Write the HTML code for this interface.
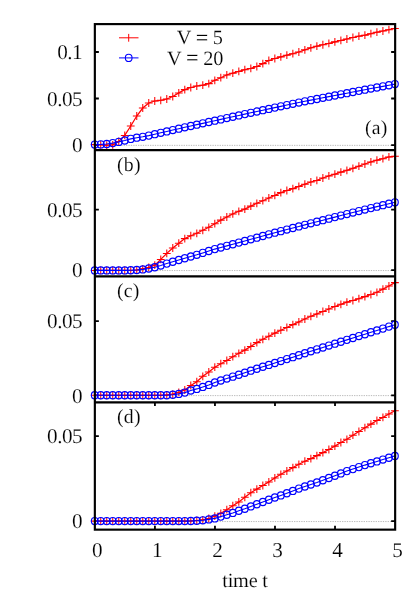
<!DOCTYPE html>
<html><head><meta charset="utf-8"><title>plot</title>
<style>html,body{margin:0;padding:0;background:#fff;}svg{display:block;will-change:transform;}text{font-family:"Liberation Serif",serif;font-size:20.3px;letter-spacing:-0.2px;fill:#000;text-rendering:geometricPrecision;stroke:#fff;stroke-width:0.14px;}.t{font-size:21.2px;letter-spacing:-0.55px;}.p{font-size:19.8px;letter-spacing:0.25px;}</style>
</head><body>
<svg width="415" height="610" viewBox="0 0 415 610">
<rect x="0" y="0" width="415" height="610" fill="#ffffff"/>
<line x1="94.85" y1="145.35" x2="395.15" y2="145.35" stroke="#a8a8a8" stroke-width="0.8" stroke-dasharray="1.3 1.1"/>
<line x1="94.85" y1="270.55" x2="395.15" y2="270.55" stroke="#a8a8a8" stroke-width="0.8" stroke-dasharray="1.3 1.1"/>
<line x1="94.85" y1="395.60" x2="395.15" y2="395.60" stroke="#a8a8a8" stroke-width="0.8" stroke-dasharray="1.3 1.1"/>
<line x1="94.85" y1="521.55" x2="395.15" y2="521.55" stroke="#a8a8a8" stroke-width="0.8" stroke-dasharray="1.3 1.1"/>
<path d="M94.85 52.0h4.0M395.15 52.0h-4.0M94.85 98.5h4.0M395.15 98.5h-4.0M94.85 145.05h4.0M395.15 145.05h-4.0M94.85 209.7h4.0M395.15 209.7h-4.0M94.85 270.1h4.0M395.15 270.1h-4.0M94.85 321.2h4.0M395.15 321.2h-4.0M94.85 395.3h4.0M395.15 395.3h-4.0M94.85 436.2h4.0M395.15 436.2h-4.0M94.85 521.1h4.0M395.15 521.1h-4.0M154.93 529.65v-3.8M154.93 402.3v3.8M214.96 529.65v-3.8M214.96 402.3v3.8M274.99 529.65v-3.8M274.99 402.3v3.8M335.02 529.65v-3.8M335.02 402.3v3.8" fill="none" stroke="#000" stroke-width="1.8"/>
<polyline points="94.72,144.60 100.72,144.80 106.73,145.20 112.73,144.80 118.74,141.50 124.74,135.40 130.74,126.00 136.75,116.00 142.75,108.00 148.76,103.00 154.76,101.00 160.76,100.30 166.77,99.00 172.77,96.50 178.78,92.90 184.78,89.60 190.78,87.50 196.79,86.00 202.79,85.20 208.80,83.60 214.80,80.30 220.80,77.70 226.81,74.90 232.81,73.20 238.82,71.40 244.82,69.70 250.82,68.40 256.83,66.50 262.83,63.60 268.84,60.50 274.84,58.50 280.84,56.85 286.85,55.20 292.85,53.70 298.86,52.00 304.86,49.80 310.86,47.80 316.87,46.15 322.87,44.75 328.88,43.40 334.88,41.85 340.88,40.40 346.89,39.00 352.89,37.50 358.90,36.20 364.90,35.20 370.90,33.70 376.91,32.20 382.91,31.00 388.92,29.70 394.92,28.40" fill="none" stroke="#ff0000" stroke-width="1.25"/>
<path d="M90.82 144.60h7.8M94.72 140.70v7.8M96.82 144.80h7.8M100.72 140.90v7.8M102.83 145.20h7.8M106.73 141.30v7.8M108.83 144.80h7.8M112.73 140.90v7.8M114.84 141.50h7.8M118.74 137.60v7.8M120.84 135.40h7.8M124.74 131.50v7.8M126.84 126.00h7.8M130.74 122.10v7.8M132.85 116.00h7.8M136.75 112.10v7.8M138.85 108.00h7.8M142.75 104.10v7.8M144.86 103.00h7.8M148.76 99.10v7.8M150.86 101.00h7.8M154.76 97.10v7.8M156.86 100.30h7.8M160.76 96.40v7.8M162.87 99.00h7.8M166.77 95.10v7.8M168.87 96.50h7.8M172.77 92.60v7.8M174.88 92.90h7.8M178.78 89.00v7.8M180.88 89.60h7.8M184.78 85.70v7.8M186.88 87.50h7.8M190.78 83.60v7.8M192.89 86.00h7.8M196.79 82.10v7.8M198.89 85.20h7.8M202.79 81.30v7.8M204.90 83.60h7.8M208.80 79.70v7.8M210.90 80.30h7.8M214.80 76.40v7.8M216.90 77.70h7.8M220.80 73.80v7.8M222.91 74.90h7.8M226.81 71.00v7.8M228.91 73.20h7.8M232.81 69.30v7.8M234.92 71.40h7.8M238.82 67.50v7.8M240.92 69.70h7.8M244.82 65.80v7.8M246.92 68.40h7.8M250.82 64.50v7.8M252.93 66.50h7.8M256.83 62.60v7.8M258.93 63.60h7.8M262.83 59.70v7.8M264.94 60.50h7.8M268.84 56.60v7.8M270.94 58.50h7.8M274.84 54.60v7.8M276.94 56.85h7.8M280.84 52.95v7.8M282.95 55.20h7.8M286.85 51.30v7.8M288.95 53.70h7.8M292.85 49.80v7.8M294.96 52.00h7.8M298.86 48.10v7.8M300.96 49.80h7.8M304.86 45.90v7.8M306.96 47.80h7.8M310.86 43.90v7.8M312.97 46.15h7.8M316.87 42.25v7.8M318.97 44.75h7.8M322.87 40.85v7.8M324.98 43.40h7.8M328.88 39.50v7.8M330.98 41.85h7.8M334.88 37.95v7.8M336.98 40.40h7.8M340.88 36.50v7.8M342.99 39.00h7.8M346.89 35.10v7.8M348.99 37.50h7.8M352.89 33.60v7.8M355.00 36.20h7.8M358.90 32.30v7.8M361.00 35.20h7.8M364.90 31.30v7.8M367.00 33.70h7.8M370.90 29.80v7.8M373.01 32.20h7.8M376.91 28.30v7.8M379.01 31.00h7.8M382.91 27.10v7.8M385.02 29.70h7.8M388.92 25.80v7.8M391.02 28.40h7.8M394.92 24.50v7.8" fill="none" stroke="#ff0000" stroke-width="1.05"/>
<polyline points="94.72,144.60 100.72,144.40 106.73,144.00 112.73,143.10 118.74,141.90 124.74,140.50 130.74,138.90 136.75,137.70 142.75,136.80 148.76,135.60 154.76,134.20 160.76,132.82 166.77,131.44 172.77,130.06 178.78,128.68 184.78,127.30 190.78,125.98 196.79,124.66 202.79,123.34 208.80,122.02 214.80,120.70 220.80,119.38 226.81,118.06 232.81,116.74 238.82,115.42 244.82,114.10 250.82,112.80 256.83,111.50 262.83,110.20 268.84,108.90 274.84,107.60 280.84,106.34 286.85,105.08 292.85,103.82 298.86,102.56 304.86,101.30 310.86,100.14 316.87,98.98 322.87,97.82 328.88,96.66 334.88,95.50 340.88,94.34 346.89,93.18 352.89,92.02 358.90,90.86 364.90,89.70 370.90,88.58 376.91,87.46 382.91,86.34 388.92,85.22 394.92,84.10" fill="none" stroke="#0000ff" stroke-width="1.1"/>
<g fill="none" stroke="#0000ff" stroke-width="1.15">
<ellipse cx="94.72" cy="144.60" rx="3.35" ry="3.6"/>
<ellipse cx="100.72" cy="144.40" rx="3.35" ry="3.6"/>
<ellipse cx="106.73" cy="144.00" rx="3.35" ry="3.6"/>
<ellipse cx="112.73" cy="143.10" rx="3.35" ry="3.6"/>
<ellipse cx="118.74" cy="141.90" rx="3.35" ry="3.6"/>
<ellipse cx="124.74" cy="140.50" rx="3.35" ry="3.6"/>
<ellipse cx="130.74" cy="138.90" rx="3.35" ry="3.6"/>
<ellipse cx="136.75" cy="137.70" rx="3.35" ry="3.6"/>
<ellipse cx="142.75" cy="136.80" rx="3.35" ry="3.6"/>
<ellipse cx="148.76" cy="135.60" rx="3.35" ry="3.6"/>
<ellipse cx="154.76" cy="134.20" rx="3.35" ry="3.6"/>
<ellipse cx="160.76" cy="132.82" rx="3.35" ry="3.6"/>
<ellipse cx="166.77" cy="131.44" rx="3.35" ry="3.6"/>
<ellipse cx="172.77" cy="130.06" rx="3.35" ry="3.6"/>
<ellipse cx="178.78" cy="128.68" rx="3.35" ry="3.6"/>
<ellipse cx="184.78" cy="127.30" rx="3.35" ry="3.6"/>
<ellipse cx="190.78" cy="125.98" rx="3.35" ry="3.6"/>
<ellipse cx="196.79" cy="124.66" rx="3.35" ry="3.6"/>
<ellipse cx="202.79" cy="123.34" rx="3.35" ry="3.6"/>
<ellipse cx="208.80" cy="122.02" rx="3.35" ry="3.6"/>
<ellipse cx="214.80" cy="120.70" rx="3.35" ry="3.6"/>
<ellipse cx="220.80" cy="119.38" rx="3.35" ry="3.6"/>
<ellipse cx="226.81" cy="118.06" rx="3.35" ry="3.6"/>
<ellipse cx="232.81" cy="116.74" rx="3.35" ry="3.6"/>
<ellipse cx="238.82" cy="115.42" rx="3.35" ry="3.6"/>
<ellipse cx="244.82" cy="114.10" rx="3.35" ry="3.6"/>
<ellipse cx="250.82" cy="112.80" rx="3.35" ry="3.6"/>
<ellipse cx="256.83" cy="111.50" rx="3.35" ry="3.6"/>
<ellipse cx="262.83" cy="110.20" rx="3.35" ry="3.6"/>
<ellipse cx="268.84" cy="108.90" rx="3.35" ry="3.6"/>
<ellipse cx="274.84" cy="107.60" rx="3.35" ry="3.6"/>
<ellipse cx="280.84" cy="106.34" rx="3.35" ry="3.6"/>
<ellipse cx="286.85" cy="105.08" rx="3.35" ry="3.6"/>
<ellipse cx="292.85" cy="103.82" rx="3.35" ry="3.6"/>
<ellipse cx="298.86" cy="102.56" rx="3.35" ry="3.6"/>
<ellipse cx="304.86" cy="101.30" rx="3.35" ry="3.6"/>
<ellipse cx="310.86" cy="100.14" rx="3.35" ry="3.6"/>
<ellipse cx="316.87" cy="98.98" rx="3.35" ry="3.6"/>
<ellipse cx="322.87" cy="97.82" rx="3.35" ry="3.6"/>
<ellipse cx="328.88" cy="96.66" rx="3.35" ry="3.6"/>
<ellipse cx="334.88" cy="95.50" rx="3.35" ry="3.6"/>
<ellipse cx="340.88" cy="94.34" rx="3.35" ry="3.6"/>
<ellipse cx="346.89" cy="93.18" rx="3.35" ry="3.6"/>
<ellipse cx="352.89" cy="92.02" rx="3.35" ry="3.6"/>
<ellipse cx="358.90" cy="90.86" rx="3.35" ry="3.6"/>
<ellipse cx="364.90" cy="89.70" rx="3.35" ry="3.6"/>
<ellipse cx="370.90" cy="88.58" rx="3.35" ry="3.6"/>
<ellipse cx="376.91" cy="87.46" rx="3.35" ry="3.6"/>
<ellipse cx="382.91" cy="86.34" rx="3.35" ry="3.6"/>
<ellipse cx="388.92" cy="85.22" rx="3.35" ry="3.6"/>
<ellipse cx="394.92" cy="84.10" rx="3.35" ry="3.6"/>
</g>
<polyline points="94.72,270.40 100.72,270.40 106.73,270.40 112.73,270.40 118.74,270.40 124.74,270.40 130.74,270.40 136.75,270.00 142.75,268.80 148.76,267.40 154.76,265.10 160.76,259.40 166.77,253.40 172.77,248.00 178.78,243.20 184.78,238.60 190.78,235.70 196.79,233.30 202.79,230.30 208.80,227.30 214.80,223.70 220.80,220.10 226.81,217.00 232.81,213.90 238.82,211.30 244.82,209.10 250.82,206.10 256.83,203.30 262.83,200.70 268.84,198.00 274.84,195.40 280.84,192.60 286.85,190.50 292.85,188.60 298.86,186.40 304.86,184.20 310.86,182.00 316.87,180.40 322.87,178.00 328.88,175.95 334.88,174.20 340.88,172.10 346.89,170.30 352.89,168.30 358.90,166.20 364.90,164.00 370.90,161.90 376.91,160.20 382.91,158.70 388.92,156.90 394.92,156.30" fill="none" stroke="#ff0000" stroke-width="1.25"/>
<path d="M90.82 270.40h7.8M94.72 266.50v7.8M96.82 270.40h7.8M100.72 266.50v7.8M102.83 270.40h7.8M106.73 266.50v7.8M108.83 270.40h7.8M112.73 266.50v7.8M114.84 270.40h7.8M118.74 266.50v7.8M120.84 270.40h7.8M124.74 266.50v7.8M126.84 270.40h7.8M130.74 266.50v7.8M132.85 270.00h7.8M136.75 266.10v7.8M138.85 268.80h7.8M142.75 264.90v7.8M144.86 267.40h7.8M148.76 263.50v7.8M150.86 265.10h7.8M154.76 261.20v7.8M156.86 259.40h7.8M160.76 255.50v7.8M162.87 253.40h7.8M166.77 249.50v7.8M168.87 248.00h7.8M172.77 244.10v7.8M174.88 243.20h7.8M178.78 239.30v7.8M180.88 238.60h7.8M184.78 234.70v7.8M186.88 235.70h7.8M190.78 231.80v7.8M192.89 233.30h7.8M196.79 229.40v7.8M198.89 230.30h7.8M202.79 226.40v7.8M204.90 227.30h7.8M208.80 223.40v7.8M210.90 223.70h7.8M214.80 219.80v7.8M216.90 220.10h7.8M220.80 216.20v7.8M222.91 217.00h7.8M226.81 213.10v7.8M228.91 213.90h7.8M232.81 210.00v7.8M234.92 211.30h7.8M238.82 207.40v7.8M240.92 209.10h7.8M244.82 205.20v7.8M246.92 206.10h7.8M250.82 202.20v7.8M252.93 203.30h7.8M256.83 199.40v7.8M258.93 200.70h7.8M262.83 196.80v7.8M264.94 198.00h7.8M268.84 194.10v7.8M270.94 195.40h7.8M274.84 191.50v7.8M276.94 192.60h7.8M280.84 188.70v7.8M282.95 190.50h7.8M286.85 186.60v7.8M288.95 188.60h7.8M292.85 184.70v7.8M294.96 186.40h7.8M298.86 182.50v7.8M300.96 184.20h7.8M304.86 180.30v7.8M306.96 182.00h7.8M310.86 178.10v7.8M312.97 180.40h7.8M316.87 176.50v7.8M318.97 178.00h7.8M322.87 174.10v7.8M324.98 175.95h7.8M328.88 172.05v7.8M330.98 174.20h7.8M334.88 170.30v7.8M336.98 172.10h7.8M340.88 168.20v7.8M342.99 170.30h7.8M346.89 166.40v7.8M348.99 168.30h7.8M352.89 164.40v7.8M355.00 166.20h7.8M358.90 162.30v7.8M361.00 164.00h7.8M364.90 160.10v7.8M367.00 161.90h7.8M370.90 158.00v7.8M373.01 160.20h7.8M376.91 156.30v7.8M379.01 158.70h7.8M382.91 154.80v7.8M385.02 156.90h7.8M388.92 153.00v7.8M391.02 156.30h7.8M394.92 152.40v7.8" fill="none" stroke="#ff0000" stroke-width="1.05"/>
<polyline points="94.72,270.40 100.72,270.40 106.73,270.40 112.73,270.40 118.74,270.40 124.74,270.40 130.74,270.20 136.75,270.00 142.75,269.40 148.76,268.50 154.76,267.20 160.76,265.50 166.77,263.60 172.77,261.80 178.78,260.00 184.78,258.30 190.78,256.50 196.79,254.80 202.79,252.90 208.80,251.00 214.80,249.10 220.80,247.48 226.81,245.86 232.81,244.24 238.82,242.62 244.82,241.00 250.82,239.34 256.83,237.68 262.83,236.02 268.84,234.36 274.84,232.70 280.84,231.13 286.85,229.56 292.85,227.99 298.86,226.42 304.86,224.85 310.86,223.30 316.87,221.75 322.87,220.20 328.88,218.65 334.88,217.10 340.88,215.59 346.89,214.08 352.89,212.57 358.90,211.06 364.90,209.55 370.90,208.10 376.91,206.65 382.91,205.20 388.92,203.75 394.92,202.30" fill="none" stroke="#0000ff" stroke-width="1.1"/>
<g fill="none" stroke="#0000ff" stroke-width="1.15">
<ellipse cx="94.72" cy="270.40" rx="3.35" ry="3.6"/>
<ellipse cx="100.72" cy="270.40" rx="3.35" ry="3.6"/>
<ellipse cx="106.73" cy="270.40" rx="3.35" ry="3.6"/>
<ellipse cx="112.73" cy="270.40" rx="3.35" ry="3.6"/>
<ellipse cx="118.74" cy="270.40" rx="3.35" ry="3.6"/>
<ellipse cx="124.74" cy="270.40" rx="3.35" ry="3.6"/>
<ellipse cx="130.74" cy="270.20" rx="3.35" ry="3.6"/>
<ellipse cx="136.75" cy="270.00" rx="3.35" ry="3.6"/>
<ellipse cx="142.75" cy="269.40" rx="3.35" ry="3.6"/>
<ellipse cx="148.76" cy="268.50" rx="3.35" ry="3.6"/>
<ellipse cx="154.76" cy="267.20" rx="3.35" ry="3.6"/>
<ellipse cx="160.76" cy="265.50" rx="3.35" ry="3.6"/>
<ellipse cx="166.77" cy="263.60" rx="3.35" ry="3.6"/>
<ellipse cx="172.77" cy="261.80" rx="3.35" ry="3.6"/>
<ellipse cx="178.78" cy="260.00" rx="3.35" ry="3.6"/>
<ellipse cx="184.78" cy="258.30" rx="3.35" ry="3.6"/>
<ellipse cx="190.78" cy="256.50" rx="3.35" ry="3.6"/>
<ellipse cx="196.79" cy="254.80" rx="3.35" ry="3.6"/>
<ellipse cx="202.79" cy="252.90" rx="3.35" ry="3.6"/>
<ellipse cx="208.80" cy="251.00" rx="3.35" ry="3.6"/>
<ellipse cx="214.80" cy="249.10" rx="3.35" ry="3.6"/>
<ellipse cx="220.80" cy="247.48" rx="3.35" ry="3.6"/>
<ellipse cx="226.81" cy="245.86" rx="3.35" ry="3.6"/>
<ellipse cx="232.81" cy="244.24" rx="3.35" ry="3.6"/>
<ellipse cx="238.82" cy="242.62" rx="3.35" ry="3.6"/>
<ellipse cx="244.82" cy="241.00" rx="3.35" ry="3.6"/>
<ellipse cx="250.82" cy="239.34" rx="3.35" ry="3.6"/>
<ellipse cx="256.83" cy="237.68" rx="3.35" ry="3.6"/>
<ellipse cx="262.83" cy="236.02" rx="3.35" ry="3.6"/>
<ellipse cx="268.84" cy="234.36" rx="3.35" ry="3.6"/>
<ellipse cx="274.84" cy="232.70" rx="3.35" ry="3.6"/>
<ellipse cx="280.84" cy="231.13" rx="3.35" ry="3.6"/>
<ellipse cx="286.85" cy="229.56" rx="3.35" ry="3.6"/>
<ellipse cx="292.85" cy="227.99" rx="3.35" ry="3.6"/>
<ellipse cx="298.86" cy="226.42" rx="3.35" ry="3.6"/>
<ellipse cx="304.86" cy="224.85" rx="3.35" ry="3.6"/>
<ellipse cx="310.86" cy="223.30" rx="3.35" ry="3.6"/>
<ellipse cx="316.87" cy="221.75" rx="3.35" ry="3.6"/>
<ellipse cx="322.87" cy="220.20" rx="3.35" ry="3.6"/>
<ellipse cx="328.88" cy="218.65" rx="3.35" ry="3.6"/>
<ellipse cx="334.88" cy="217.10" rx="3.35" ry="3.6"/>
<ellipse cx="340.88" cy="215.59" rx="3.35" ry="3.6"/>
<ellipse cx="346.89" cy="214.08" rx="3.35" ry="3.6"/>
<ellipse cx="352.89" cy="212.57" rx="3.35" ry="3.6"/>
<ellipse cx="358.90" cy="211.06" rx="3.35" ry="3.6"/>
<ellipse cx="364.90" cy="209.55" rx="3.35" ry="3.6"/>
<ellipse cx="370.90" cy="208.10" rx="3.35" ry="3.6"/>
<ellipse cx="376.91" cy="206.65" rx="3.35" ry="3.6"/>
<ellipse cx="382.91" cy="205.20" rx="3.35" ry="3.6"/>
<ellipse cx="388.92" cy="203.75" rx="3.35" ry="3.6"/>
<ellipse cx="394.92" cy="202.30" rx="3.35" ry="3.6"/>
</g>
<polyline points="94.72,395.30 100.72,395.30 106.73,395.30 112.73,395.30 118.74,395.30 124.74,395.30 130.74,395.30 136.75,395.30 142.75,395.30 148.76,395.30 154.76,395.30 160.76,395.30 166.77,394.90 172.77,394.20 178.78,392.40 184.78,390.00 190.78,385.50 196.79,381.70 202.79,376.30 208.80,372.00 214.80,367.20 220.80,363.70 226.81,360.50 232.81,356.70 238.82,353.30 244.82,350.10 250.82,346.40 256.83,342.60 262.83,339.30 268.84,336.30 274.84,333.10 280.84,330.20 286.85,327.50 292.85,324.60 298.86,321.90 304.86,319.00 310.86,316.30 316.87,313.90 322.87,311.50 328.88,309.00 334.88,306.50 340.88,304.30 346.89,302.10 352.89,300.50 358.90,298.70 364.90,296.60 370.90,294.50 376.91,292.30 382.91,289.10 388.92,286.00 394.92,282.60" fill="none" stroke="#ff0000" stroke-width="1.25"/>
<path d="M90.82 395.30h7.8M94.72 391.40v7.8M96.82 395.30h7.8M100.72 391.40v7.8M102.83 395.30h7.8M106.73 391.40v7.8M108.83 395.30h7.8M112.73 391.40v7.8M114.84 395.30h7.8M118.74 391.40v7.8M120.84 395.30h7.8M124.74 391.40v7.8M126.84 395.30h7.8M130.74 391.40v7.8M132.85 395.30h7.8M136.75 391.40v7.8M138.85 395.30h7.8M142.75 391.40v7.8M144.86 395.30h7.8M148.76 391.40v7.8M150.86 395.30h7.8M154.76 391.40v7.8M156.86 395.30h7.8M160.76 391.40v7.8M162.87 394.90h7.8M166.77 391.00v7.8M168.87 394.20h7.8M172.77 390.30v7.8M174.88 392.40h7.8M178.78 388.50v7.8M180.88 390.00h7.8M184.78 386.10v7.8M186.88 385.50h7.8M190.78 381.60v7.8M192.89 381.70h7.8M196.79 377.80v7.8M198.89 376.30h7.8M202.79 372.40v7.8M204.90 372.00h7.8M208.80 368.10v7.8M210.90 367.20h7.8M214.80 363.30v7.8M216.90 363.70h7.8M220.80 359.80v7.8M222.91 360.50h7.8M226.81 356.60v7.8M228.91 356.70h7.8M232.81 352.80v7.8M234.92 353.30h7.8M238.82 349.40v7.8M240.92 350.10h7.8M244.82 346.20v7.8M246.92 346.40h7.8M250.82 342.50v7.8M252.93 342.60h7.8M256.83 338.70v7.8M258.93 339.30h7.8M262.83 335.40v7.8M264.94 336.30h7.8M268.84 332.40v7.8M270.94 333.10h7.8M274.84 329.20v7.8M276.94 330.20h7.8M280.84 326.30v7.8M282.95 327.50h7.8M286.85 323.60v7.8M288.95 324.60h7.8M292.85 320.70v7.8M294.96 321.90h7.8M298.86 318.00v7.8M300.96 319.00h7.8M304.86 315.10v7.8M306.96 316.30h7.8M310.86 312.40v7.8M312.97 313.90h7.8M316.87 310.00v7.8M318.97 311.50h7.8M322.87 307.60v7.8M324.98 309.00h7.8M328.88 305.10v7.8M330.98 306.50h7.8M334.88 302.60v7.8M336.98 304.30h7.8M340.88 300.40v7.8M342.99 302.10h7.8M346.89 298.20v7.8M348.99 300.50h7.8M352.89 296.60v7.8M355.00 298.70h7.8M358.90 294.80v7.8M361.00 296.60h7.8M364.90 292.70v7.8M367.00 294.50h7.8M370.90 290.60v7.8M373.01 292.30h7.8M376.91 288.40v7.8M379.01 289.10h7.8M382.91 285.20v7.8M385.02 286.00h7.8M388.92 282.10v7.8M391.02 282.60h7.8M394.92 278.70v7.8" fill="none" stroke="#ff0000" stroke-width="1.05"/>
<polyline points="94.72,395.30 100.72,395.30 106.73,395.30 112.73,395.30 118.74,395.30 124.74,395.30 130.74,395.30 136.75,395.30 142.75,395.30 148.76,395.30 154.76,395.30 160.76,395.30 166.77,395.20 172.77,394.80 178.78,393.90 184.78,392.60 190.78,390.50 196.79,388.90 202.79,386.90 208.80,384.90 214.80,382.55 220.80,380.50 226.81,378.57 232.81,376.63 238.82,374.70 244.82,372.70 250.82,370.65 256.83,368.70 262.83,366.80 268.84,364.90 274.84,363.00 280.84,361.06 286.85,359.12 292.85,357.18 298.86,355.24 304.86,353.30 310.86,351.30 316.87,349.39 322.87,347.48 328.88,345.56 334.88,343.65 340.88,341.76 346.89,339.87 352.89,337.98 358.90,336.09 364.90,334.20 370.90,332.30 376.91,330.40 382.91,328.60 388.92,326.60 394.92,324.80" fill="none" stroke="#0000ff" stroke-width="1.1"/>
<g fill="none" stroke="#0000ff" stroke-width="1.15">
<ellipse cx="94.72" cy="395.30" rx="3.35" ry="3.6"/>
<ellipse cx="100.72" cy="395.30" rx="3.35" ry="3.6"/>
<ellipse cx="106.73" cy="395.30" rx="3.35" ry="3.6"/>
<ellipse cx="112.73" cy="395.30" rx="3.35" ry="3.6"/>
<ellipse cx="118.74" cy="395.30" rx="3.35" ry="3.6"/>
<ellipse cx="124.74" cy="395.30" rx="3.35" ry="3.6"/>
<ellipse cx="130.74" cy="395.30" rx="3.35" ry="3.6"/>
<ellipse cx="136.75" cy="395.30" rx="3.35" ry="3.6"/>
<ellipse cx="142.75" cy="395.30" rx="3.35" ry="3.6"/>
<ellipse cx="148.76" cy="395.30" rx="3.35" ry="3.6"/>
<ellipse cx="154.76" cy="395.30" rx="3.35" ry="3.6"/>
<ellipse cx="160.76" cy="395.30" rx="3.35" ry="3.6"/>
<ellipse cx="166.77" cy="395.20" rx="3.35" ry="3.6"/>
<ellipse cx="172.77" cy="394.80" rx="3.35" ry="3.6"/>
<ellipse cx="178.78" cy="393.90" rx="3.35" ry="3.6"/>
<ellipse cx="184.78" cy="392.60" rx="3.35" ry="3.6"/>
<ellipse cx="190.78" cy="390.50" rx="3.35" ry="3.6"/>
<ellipse cx="196.79" cy="388.90" rx="3.35" ry="3.6"/>
<ellipse cx="202.79" cy="386.90" rx="3.35" ry="3.6"/>
<ellipse cx="208.80" cy="384.90" rx="3.35" ry="3.6"/>
<ellipse cx="214.80" cy="382.55" rx="3.35" ry="3.6"/>
<ellipse cx="220.80" cy="380.50" rx="3.35" ry="3.6"/>
<ellipse cx="226.81" cy="378.57" rx="3.35" ry="3.6"/>
<ellipse cx="232.81" cy="376.63" rx="3.35" ry="3.6"/>
<ellipse cx="238.82" cy="374.70" rx="3.35" ry="3.6"/>
<ellipse cx="244.82" cy="372.70" rx="3.35" ry="3.6"/>
<ellipse cx="250.82" cy="370.65" rx="3.35" ry="3.6"/>
<ellipse cx="256.83" cy="368.70" rx="3.35" ry="3.6"/>
<ellipse cx="262.83" cy="366.80" rx="3.35" ry="3.6"/>
<ellipse cx="268.84" cy="364.90" rx="3.35" ry="3.6"/>
<ellipse cx="274.84" cy="363.00" rx="3.35" ry="3.6"/>
<ellipse cx="280.84" cy="361.06" rx="3.35" ry="3.6"/>
<ellipse cx="286.85" cy="359.12" rx="3.35" ry="3.6"/>
<ellipse cx="292.85" cy="357.18" rx="3.35" ry="3.6"/>
<ellipse cx="298.86" cy="355.24" rx="3.35" ry="3.6"/>
<ellipse cx="304.86" cy="353.30" rx="3.35" ry="3.6"/>
<ellipse cx="310.86" cy="351.30" rx="3.35" ry="3.6"/>
<ellipse cx="316.87" cy="349.39" rx="3.35" ry="3.6"/>
<ellipse cx="322.87" cy="347.48" rx="3.35" ry="3.6"/>
<ellipse cx="328.88" cy="345.56" rx="3.35" ry="3.6"/>
<ellipse cx="334.88" cy="343.65" rx="3.35" ry="3.6"/>
<ellipse cx="340.88" cy="341.76" rx="3.35" ry="3.6"/>
<ellipse cx="346.89" cy="339.87" rx="3.35" ry="3.6"/>
<ellipse cx="352.89" cy="337.98" rx="3.35" ry="3.6"/>
<ellipse cx="358.90" cy="336.09" rx="3.35" ry="3.6"/>
<ellipse cx="364.90" cy="334.20" rx="3.35" ry="3.6"/>
<ellipse cx="370.90" cy="332.30" rx="3.35" ry="3.6"/>
<ellipse cx="376.91" cy="330.40" rx="3.35" ry="3.6"/>
<ellipse cx="382.91" cy="328.60" rx="3.35" ry="3.6"/>
<ellipse cx="388.92" cy="326.60" rx="3.35" ry="3.6"/>
<ellipse cx="394.92" cy="324.80" rx="3.35" ry="3.6"/>
</g>
<polyline points="94.72,521.10 100.72,521.10 106.73,521.10 112.73,521.10 118.74,521.10 124.74,521.10 130.74,521.10 136.75,521.10 142.75,521.10 148.76,521.10 154.76,521.10 160.76,521.10 166.77,521.10 172.77,521.10 178.78,521.10 184.78,521.10 190.78,520.90 196.79,520.50 202.79,519.80 208.80,518.50 214.80,516.10 220.80,513.30 226.81,509.70 232.81,505.70 238.82,501.90 244.82,497.30 250.82,492.70 256.83,489.10 262.83,485.50 268.84,481.90 274.84,477.90 280.84,474.30 286.85,471.00 292.85,467.60 298.86,464.30 304.86,461.20 310.86,458.60 316.87,455.60 322.87,452.60 328.88,449.50 334.88,446.10 340.88,442.50 346.89,439.30 352.89,435.20 358.90,431.50 364.90,427.70 370.90,424.10 376.91,420.50 382.91,417.40 388.92,414.00 394.92,410.70" fill="none" stroke="#ff0000" stroke-width="1.25"/>
<path d="M90.82 521.10h7.8M94.72 517.20v7.8M96.82 521.10h7.8M100.72 517.20v7.8M102.83 521.10h7.8M106.73 517.20v7.8M108.83 521.10h7.8M112.73 517.20v7.8M114.84 521.10h7.8M118.74 517.20v7.8M120.84 521.10h7.8M124.74 517.20v7.8M126.84 521.10h7.8M130.74 517.20v7.8M132.85 521.10h7.8M136.75 517.20v7.8M138.85 521.10h7.8M142.75 517.20v7.8M144.86 521.10h7.8M148.76 517.20v7.8M150.86 521.10h7.8M154.76 517.20v7.8M156.86 521.10h7.8M160.76 517.20v7.8M162.87 521.10h7.8M166.77 517.20v7.8M168.87 521.10h7.8M172.77 517.20v7.8M174.88 521.10h7.8M178.78 517.20v7.8M180.88 521.10h7.8M184.78 517.20v7.8M186.88 520.90h7.8M190.78 517.00v7.8M192.89 520.50h7.8M196.79 516.60v7.8M198.89 519.80h7.8M202.79 515.90v7.8M204.90 518.50h7.8M208.80 514.60v7.8M210.90 516.10h7.8M214.80 512.20v7.8M216.90 513.30h7.8M220.80 509.40v7.8M222.91 509.70h7.8M226.81 505.80v7.8M228.91 505.70h7.8M232.81 501.80v7.8M234.92 501.90h7.8M238.82 498.00v7.8M240.92 497.30h7.8M244.82 493.40v7.8M246.92 492.70h7.8M250.82 488.80v7.8M252.93 489.10h7.8M256.83 485.20v7.8M258.93 485.50h7.8M262.83 481.60v7.8M264.94 481.90h7.8M268.84 478.00v7.8M270.94 477.90h7.8M274.84 474.00v7.8M276.94 474.30h7.8M280.84 470.40v7.8M282.95 471.00h7.8M286.85 467.10v7.8M288.95 467.60h7.8M292.85 463.70v7.8M294.96 464.30h7.8M298.86 460.40v7.8M300.96 461.20h7.8M304.86 457.30v7.8M306.96 458.60h7.8M310.86 454.70v7.8M312.97 455.60h7.8M316.87 451.70v7.8M318.97 452.60h7.8M322.87 448.70v7.8M324.98 449.50h7.8M328.88 445.60v7.8M330.98 446.10h7.8M334.88 442.20v7.8M336.98 442.50h7.8M340.88 438.60v7.8M342.99 439.30h7.8M346.89 435.40v7.8M348.99 435.20h7.8M352.89 431.30v7.8M355.00 431.50h7.8M358.90 427.60v7.8M361.00 427.70h7.8M364.90 423.80v7.8M367.00 424.10h7.8M370.90 420.20v7.8M373.01 420.50h7.8M376.91 416.60v7.8M379.01 417.40h7.8M382.91 413.50v7.8M385.02 414.00h7.8M388.92 410.10v7.8M391.02 410.70h7.8M394.92 406.80v7.8" fill="none" stroke="#ff0000" stroke-width="1.05"/>
<polyline points="94.72,521.10 100.72,521.10 106.73,521.10 112.73,521.10 118.74,521.10 124.74,521.10 130.74,521.10 136.75,521.10 142.75,521.10 148.76,521.10 154.76,521.10 160.76,521.10 166.77,521.10 172.77,521.10 178.78,521.10 184.78,521.10 190.78,521.00 196.79,520.70 202.79,520.30 208.80,519.40 214.80,518.40 220.80,516.60 226.81,514.80 232.81,512.90 238.82,510.70 244.82,508.70 250.82,506.40 256.83,504.20 262.83,501.95 268.84,499.70 274.84,497.55 280.84,495.40 286.85,493.20 292.85,490.90 298.86,488.60 304.86,486.55 310.86,484.50 316.87,482.50 322.87,480.30 328.88,478.00 334.88,475.70 340.88,473.40 346.89,471.10 352.89,469.10 358.90,467.10 364.90,465.10 370.90,463.26 376.91,461.42 382.91,459.58 388.92,457.74 394.92,455.90" fill="none" stroke="#0000ff" stroke-width="1.1"/>
<g fill="none" stroke="#0000ff" stroke-width="1.15">
<ellipse cx="94.72" cy="521.10" rx="3.35" ry="3.6"/>
<ellipse cx="100.72" cy="521.10" rx="3.35" ry="3.6"/>
<ellipse cx="106.73" cy="521.10" rx="3.35" ry="3.6"/>
<ellipse cx="112.73" cy="521.10" rx="3.35" ry="3.6"/>
<ellipse cx="118.74" cy="521.10" rx="3.35" ry="3.6"/>
<ellipse cx="124.74" cy="521.10" rx="3.35" ry="3.6"/>
<ellipse cx="130.74" cy="521.10" rx="3.35" ry="3.6"/>
<ellipse cx="136.75" cy="521.10" rx="3.35" ry="3.6"/>
<ellipse cx="142.75" cy="521.10" rx="3.35" ry="3.6"/>
<ellipse cx="148.76" cy="521.10" rx="3.35" ry="3.6"/>
<ellipse cx="154.76" cy="521.10" rx="3.35" ry="3.6"/>
<ellipse cx="160.76" cy="521.10" rx="3.35" ry="3.6"/>
<ellipse cx="166.77" cy="521.10" rx="3.35" ry="3.6"/>
<ellipse cx="172.77" cy="521.10" rx="3.35" ry="3.6"/>
<ellipse cx="178.78" cy="521.10" rx="3.35" ry="3.6"/>
<ellipse cx="184.78" cy="521.10" rx="3.35" ry="3.6"/>
<ellipse cx="190.78" cy="521.00" rx="3.35" ry="3.6"/>
<ellipse cx="196.79" cy="520.70" rx="3.35" ry="3.6"/>
<ellipse cx="202.79" cy="520.30" rx="3.35" ry="3.6"/>
<ellipse cx="208.80" cy="519.40" rx="3.35" ry="3.6"/>
<ellipse cx="214.80" cy="518.40" rx="3.35" ry="3.6"/>
<ellipse cx="220.80" cy="516.60" rx="3.35" ry="3.6"/>
<ellipse cx="226.81" cy="514.80" rx="3.35" ry="3.6"/>
<ellipse cx="232.81" cy="512.90" rx="3.35" ry="3.6"/>
<ellipse cx="238.82" cy="510.70" rx="3.35" ry="3.6"/>
<ellipse cx="244.82" cy="508.70" rx="3.35" ry="3.6"/>
<ellipse cx="250.82" cy="506.40" rx="3.35" ry="3.6"/>
<ellipse cx="256.83" cy="504.20" rx="3.35" ry="3.6"/>
<ellipse cx="262.83" cy="501.95" rx="3.35" ry="3.6"/>
<ellipse cx="268.84" cy="499.70" rx="3.35" ry="3.6"/>
<ellipse cx="274.84" cy="497.55" rx="3.35" ry="3.6"/>
<ellipse cx="280.84" cy="495.40" rx="3.35" ry="3.6"/>
<ellipse cx="286.85" cy="493.20" rx="3.35" ry="3.6"/>
<ellipse cx="292.85" cy="490.90" rx="3.35" ry="3.6"/>
<ellipse cx="298.86" cy="488.60" rx="3.35" ry="3.6"/>
<ellipse cx="304.86" cy="486.55" rx="3.35" ry="3.6"/>
<ellipse cx="310.86" cy="484.50" rx="3.35" ry="3.6"/>
<ellipse cx="316.87" cy="482.50" rx="3.35" ry="3.6"/>
<ellipse cx="322.87" cy="480.30" rx="3.35" ry="3.6"/>
<ellipse cx="328.88" cy="478.00" rx="3.35" ry="3.6"/>
<ellipse cx="334.88" cy="475.70" rx="3.35" ry="3.6"/>
<ellipse cx="340.88" cy="473.40" rx="3.35" ry="3.6"/>
<ellipse cx="346.89" cy="471.10" rx="3.35" ry="3.6"/>
<ellipse cx="352.89" cy="469.10" rx="3.35" ry="3.6"/>
<ellipse cx="358.90" cy="467.10" rx="3.35" ry="3.6"/>
<ellipse cx="364.90" cy="465.10" rx="3.35" ry="3.6"/>
<ellipse cx="370.90" cy="463.26" rx="3.35" ry="3.6"/>
<ellipse cx="376.91" cy="461.42" rx="3.35" ry="3.6"/>
<ellipse cx="382.91" cy="459.58" rx="3.35" ry="3.6"/>
<ellipse cx="388.92" cy="457.74" rx="3.35" ry="3.6"/>
<ellipse cx="394.92" cy="455.90" rx="3.35" ry="3.6"/>
</g>
<path d="M119 37.8H138.5M128.7 33.9v7.8" fill="none" stroke="#ff0000" stroke-width="1.0"/>
<path d="M119 57.9H138.5" fill="none" stroke="#0000ff" stroke-width="1.0"/>
<ellipse cx="128.7" cy="57.9" rx="3.35" ry="3.6" fill="none" stroke="#0000ff" stroke-width="1.08"/>
<g fill="none" stroke="#000" stroke-width="2.15">
<rect x="94.85" y="24.1" width="300.29999999999995" height="505.54999999999995"/>
<line x1="94.85" y1="150.15" x2="395.15" y2="150.15"/>
<line x1="94.85" y1="276.35" x2="395.15" y2="276.35"/>
<line x1="94.85" y1="402.3" x2="395.15" y2="402.3"/>
</g>
<g id="labels" opacity="0.999">
<text class="t" x="82.0" y="59.2" text-anchor="end">0.1</text>
<text class="t" x="82.0" y="105.7" text-anchor="end">0.05</text>
<text class="t" x="82.0" y="152.2" text-anchor="end">0</text>
<text class="t" x="82.0" y="216.9" text-anchor="end">0.05</text>
<text class="t" x="82.0" y="277.3" text-anchor="end">0</text>
<text class="t" x="82.0" y="328.4" text-anchor="end">0.05</text>
<text class="t" x="82.0" y="402.5" text-anchor="end">0</text>
<text class="t" x="82.0" y="443.4" text-anchor="end">0.05</text>
<text class="t" x="82.0" y="528.3" text-anchor="end">0</text>
<text class="t" x="97.10" y="557.0" text-anchor="middle">0</text>
<text class="t" x="157.13" y="557.0" text-anchor="middle">1</text>
<text class="t" x="217.16" y="557.0" text-anchor="middle">2</text>
<text class="t" x="277.19" y="557.0" text-anchor="middle">3</text>
<text class="t" x="337.22" y="557.0" text-anchor="middle">4</text>
<text class="t" x="397.25" y="557.0" text-anchor="middle">5</text>
<text x="245" y="586.7" text-anchor="middle">time t</text>
<text x="222.8" y="44.2" text-anchor="end">V <tspan style="font-size:22.2px" dy="0.7">=</tspan><tspan dy="-0.7"> 5</tspan></text>
<text x="223.1" y="64.6" text-anchor="end">V <tspan style="font-size:22.2px" dy="0.7">=</tspan><tspan dy="-0.7"> 20</tspan></text>
<text class="p" x="365" y="133.5">(a)</text>
<text class="p" x="117" y="171.3">(b)</text>
<text class="p" x="117" y="297.1">(c)</text>
<text class="p" x="117" y="422.7">(d)</text>
</g>
</svg></body></html>
